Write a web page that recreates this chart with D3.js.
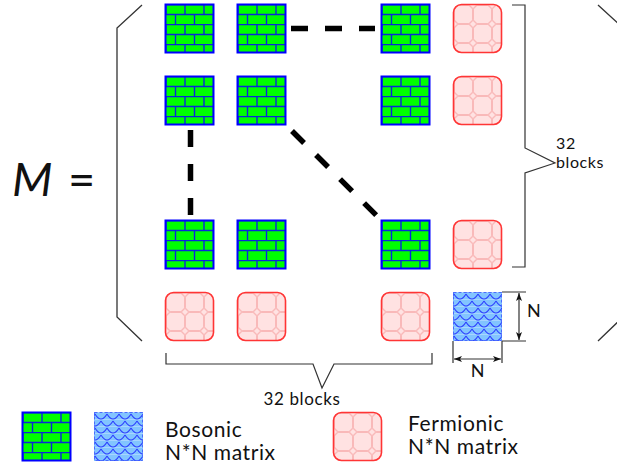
<!DOCTYPE html>
<html><head><meta charset="utf-8">
<script src="https://cdn.jsdelivr.net/npm/d3@7"></script>
<style>body{margin:0;background:#fff}svg{display:block}text{font-family:Lato,"DejaVu Sans",sans-serif;fill:#111;letter-spacing:0.6px}</style>
</head><body>
<script>
// ---- data ----
const gridIndex = [0, 1, 3, 4];            // column/row slots: block 1, block 2, block 32, fermionic
const blockRows = [
  ["B","B","B","F"],
  ["B","B","B","F"],
  ["B","B","B","F"],
  ["F","F","F","b"]
];
const connectors = [ // [row,col] -> [row,col] dashed ellipsis lines
  {from:[0,1], to:[0,2], dir:"h"},
  {from:[1,0], to:[2,0], dir:"v"},
  {from:[1,1], to:[2,2], dir:"d"}
];
const braceLabel = "32 blocks";
const sideLabel = ["32","blocks"];
const dimLabel = "N";
const legendItems = [
  {types:["B","b"], lines:["Bosonic","N*N matrix"]},
  {types:["F"], lines:["Fermionic","N*N matrix"]}
];

const W=617,H=463, S=49;
const svg=d3.select("body").append("svg").attr("width",W).attr("height",H);
const defs=svg.append("defs");

// brick pattern
const pb=defs.append("pattern").attr("id","brick").attr("patternUnits","userSpaceOnUse").attr("width",19).attr("height",20);
pb.append("rect").attr("width",19).attr("height",20).attr("fill","#00ff00");
pb.append("line").attr("x1",10.5).attr("x2",10.5).attr("y1",10).attr("y2",20).attr("stroke","#a0ffa0").attr("stroke-width",0.8);
pb.append("path").attr("d","M0,0.5H19M0,10.5H19M1,0V10.5M10.5,10V20").attr("stroke","#0a28d8").attr("stroke-width",1.4).attr("fill","none");

// octagon pattern
const P=19,c=P/2,dd=4;
const po=defs.append("pattern").attr("id","oct").attr("patternUnits","userSpaceOnUse").attr("width",P).attr("height",P).attr("x",1-c).attr("y",1-c);
po.append("rect").attr("width",P).attr("height",P).attr("fill","#ffe2e2");
po.append("path").attr("d",`M${c},${c-dd}L${c+dd},${c}L${c},${c+dd}L${c-dd},${c}Z M${c+dd},${c}H${P} M0,${c}H${c-dd} M${c},${c+dd}V${P} M${c},0V${c-dd}`)
  .attr("stroke","#f39090").attr("stroke-width",1).attr("fill","none");

// scale pattern
const ps=defs.append("pattern").attr("id","scale").attr("patternUnits","userSpaceOnUse").attr("width",12).attr("height",14).attr("x",1).attr("y",0);
ps.append("rect").attr("width",12).attr("height",14).attr("fill","#82c4ff");
ps.append("path").attr("d","M0,0.5H12M0,7.5H12").attr("stroke","#b8dcff").attr("stroke-width",0.7);
ps.append("path").attr("d","M0,2 Q6,12 12,2 M-6,9 Q0,19 6,9 M6,9 Q12,19 18,9 M-6,-5 Q0,5 6,-5 M6,-5 Q12,5 18,-5")
  .attr("stroke","#2a3cff").attr("stroke-width",1.1).attr("fill","none");

const x=d3.scaleLinear().domain([0,4]).range([165,453]);
const y=d3.scaleLinear().domain([0,4]).range([4,292]);

function drawTile(g,type){
  if(type==="B"){
    g.append("rect").attr("width",S).attr("height",S).attr("fill","url(#brick)");
    g.append("rect").attr("x",0.5).attr("y",0.5).attr("width",S-1).attr("height",S-1).attr("fill","none").attr("stroke","#0000ff").attr("stroke-width",2);
  } else if(type==="F"){
    g.append("rect").attr("x",0.5).attr("y",0.5).attr("width",S-1).attr("height",S-1).attr("rx",8).attr("fill","url(#oct)").attr("stroke","#ff3535").attr("stroke-width",1.6);
  } else {
    g.append("rect").attr("width",S).attr("height",S).attr("fill","url(#scale)");
    g.append("rect").attr("x",0.5).attr("y",0.5).attr("width",S-1).attr("height",S-1).attr("fill","none").attr("stroke","#4a6cff").attr("stroke-width",1).attr("stroke-dasharray","3,2");
  }
}

blockRows.forEach((row,ri)=>row.forEach((t,ci)=>{
  const g=svg.append("g").attr("transform",`translate(${x(gridIndex[ci])},${y(gridIndex[ri])})`);
  drawTile(g,t);
}));

// dashed connectors
connectors.forEach(cn=>{
  const [r1,c1]=cn.from,[r2,c2]=cn.to;
  let x1,y1,x2,y2;
  if(cn.dir==="h"){x1=x(gridIndex[c1])+S+5;x2=x(gridIndex[c2])-6;y1=y2=y(gridIndex[r1])+S/2;}
  else if(cn.dir==="v"){x1=x2=x(gridIndex[c1])+S/2+1;y1=y(gridIndex[r1])+S+5;y2=y(gridIndex[r2])-5;}
  else {x1=x(gridIndex[c1])+S+6;y1=y(gridIndex[r1])+S+6;x2=x(gridIndex[c2])-3;y2=y(gridIndex[r2])-3;}
  svg.append("line").attr("x1",x1).attr("y1",y1).attr("x2",x2).attr("y2",y2)
    .attr("stroke","#000").attr("stroke-width",5.5).attr("stroke-dasharray","17,17");
});

const ink="#333";
// big brackets
svg.append("path").attr("d","M142,5L117,28V317L142,341").attr("fill","none").attr("stroke",ink).attr("stroke-width",1.3);
svg.append("path").attr("d","M598,5L623,28V317L598,341").attr("fill","none").attr("stroke",ink).attr("stroke-width",1.3);

// right brace
svg.append("path").attr("d","M512,5H525V148L555,163L525,173V267H512").attr("fill","none").attr("stroke",ink).attr("stroke-width",1.2);
svg.append("text").attr("x",556).attr("y",149).attr("font-size",16).text(sideLabel[0]);
svg.append("text").attr("x",556).attr("y",168).attr("font-size",16).text(sideLabel[1]);

// bottom brace
svg.append("path").attr("d","M166,353V364H313L322,388L334,364H432V353").attr("fill","none").attr("stroke",ink).attr("stroke-width",1.2);
svg.append("text").attr("x",302).attr("y",405).attr("text-anchor","middle").attr("font-size",17).text(braceLabel);

// N dimensions
const dim=svg.append("g").attr("stroke",ink).attr("stroke-width",1.2).attr("fill","none");
dim.append("path").attr("d","M502,292H526M502,341H526M519,293V340M453,341V363M502,341V363M454,359H501");
const arrow=(px,py,ang)=>svg.append("path").attr("d","M0,0L-8,-3L-6,0L-8,3Z").attr("fill","#111")
  .attr("transform",`translate(${px},${py}) rotate(${ang})`);
arrow(519,293,-90);arrow(519,340,90);arrow(454,359,180);arrow(501,359,0);
svg.append("text").attr("x",527).attr("y",317).attr("font-size",18).text(dimLabel);
svg.append("text").attr("x",478).attr("y",377).attr("text-anchor","middle").attr("font-size",18).text(dimLabel);

// M =
svg.append("text").attr("x",12).attr("y",196).attr("font-size",47).attr("font-style","italic").text("M");
svg.append("text").attr("x",68).attr("y",196).attr("font-size",47).text("=");

// legend
const legX=[[22,94],[333]], legT=[165,408], legY=[[437,460],[431,454]];
legendItems.forEach((it,i)=>{
  it.types.forEach((t,j)=>{
    const g=svg.append("g").attr("transform",`translate(${legX[i][j]},412)`);
    drawTile(g,t);
  });
  it.lines.forEach((l,k)=>svg.append("text").attr("x",legT[i]).attr("y",legY[i][k]).attr("font-size",21).text(l));
});
</script>
</body></html>
